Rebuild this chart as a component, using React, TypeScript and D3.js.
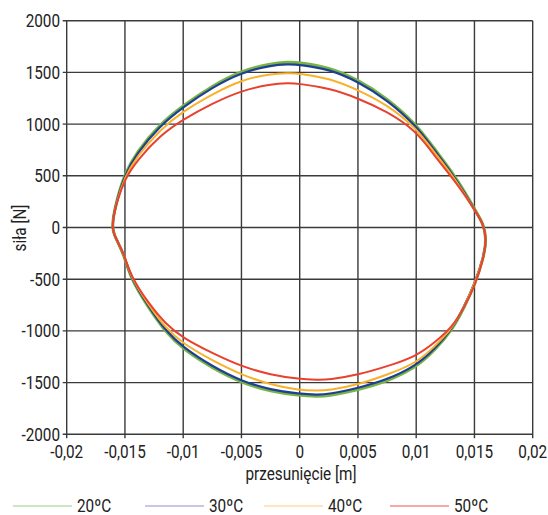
import React from "react";
import * as d3 from "d3";

const W = 548;
const H = 515;

// shared displacement positions around the loop (clockwise from left tip)
const loopX = [
  -0.0161, -0.016, -0.01567, -0.01505, -0.014, -0.012, -0.01, -0.0075, -0.005, -0.0025, -0.001, 0, 0.0025, 0.005, 0.0075, 0.01, 0.0115, 0.0131, 0.0142, 0.015, 0.0158, 0.01603,
  0.0158, 0.01508, 0.0141, 0.0131, 0.0115, 0.01, 0.0075, 0.005, 0.0025, 0.0015, 0, -0.0025, -0.005, -0.0075, -0.01, -0.0115, -0.013, -0.01453, -0.0151, -0.01573,
];

const force20 = [
  -20, 112, 278, 512, 730, 1000, 1180, 1372, 1518, 1586, 1600, 1596, 1552, 1430, 1252, 1000, 770, 535, 340, 178, 35, -119,
  -285, -540, -780, -990, -1200, -1352, -1490, -1570, -1630, -1634, -1626, -1586, -1502, -1360, -1178, -1015, -772, -492, -256, -119,
];
const force30 = [
  -20, 106, 270, 500, 715, 985, 1165, 1355, 1500, 1567, 1580, 1575, 1532, 1412, 1235, 984, 755, 520, 325, 171, 30, -119,
  -280, -530, -768, -980, -1185, -1336, -1473, -1553, -1612, -1618, -1610, -1570, -1486, -1344, -1160, -1000, -760, -480, -252, -119,
];
const force40 = [
  -20, 100, 262, 480, 685, 945, 1125, 1290, 1428, 1486, 1493, 1490, 1445, 1332, 1187, 965, 735, 505, 315, 171, 30, -119,
  -280, -535, -770, -975, -1160, -1312, -1425, -1521, -1576, -1578, -1576, -1521, -1425, -1286, -1125, -975, -745, -475, -250, -119,
];
const force50 = [
  -20, 95, 252, 460, 645, 890, 1045, 1200, 1325, 1387, 1397, 1390, 1348, 1251, 1122, 935, 705, 480, 310, 171, 30, -119,
  -290, -555, -775, -965, -1120, -1245, -1344, -1425, -1473, -1473, -1466, -1425, -1344, -1215, -1070, -935, -730, -465, -245, -119,
];

const seriesNames = ["20ºC", "30ºC", "40ºC", "50ºC"];
const seriesForces = [force20, force30, force40, force50];
const seriesColors = ["#78b444", "#1e3f96", "#f9b12a", "#e8412e"];
const legendColors = ["#9fcb85", "#938fcf", "#fbcd84", "#ec5550"];
const seriesWidths = [3, 2.2, 2, 2];

const xTicks = [-0.02, -0.015, -0.01, -0.005, 0, 0.005, 0.01, 0.015, 0.02];
const yTicks = [-2000, -1500, -1000, -500, 0, 500, 1000, 1500, 2000];

const FONT = "Roboto, 'Noto Sans', sans-serif";
const SX = 0.85;

function fmtX(v: number) {
  if (v === 0) return "0";
  return String(+v.toFixed(3)).replace(".", ",");
}

function Txt(props: { x: number; y: number; anchor?: string; rotate?: number; children: React.ReactNode }) {
  const { x, y, anchor, rotate, children } = props;
  return (
    <text
      transform={`translate(${x},${y})${rotate ? ` rotate(${rotate})` : ""} scale(${SX},1)`}
      textAnchor={anchor || "start"}
      fontSize={18}
      fill="#222"
    >
      {children}
    </text>
  );
}

export default function App() {
  const x = d3.scaleLinear().domain([-0.02, 0.02]).range([66.7, 532.7]);
  const y = d3.scaleLinear().domain([-2000, 2000]).range([434.3, 20.7]);

  const line = d3
    .line<[number, number]>()
    .x((d) => x(d[0]))
    .y((d) => y(d[1]))
    .curve(d3.curveBasisClosed);

  const legendX = [13, 145, 264, 390];

  return (
    <svg
      width={W}
      height={H}
      style={{ position: "absolute", left: 0, top: 0, background: "#fff" }}
      fontFamily={FONT}
    >
      {/* grid */}
      {xTicks.map((t) => (
        <line key={"gx" + t} x1={x(t)} x2={x(t)} y1={y(2000)} y2={y(-2000) + 4} stroke="#3a3a3a" strokeWidth={1.4} />
      ))}
      {yTicks.map((t) => (
        <line key={"gy" + t} x1={x(-0.02) - 4} x2={x(0.02)} y1={y(t)} y2={y(t)} stroke="#3a3a3a" strokeWidth={1.4} />
      ))}

      {/* series */}
      {seriesForces.map((f, i) => {
        const pts = loopX.map((xv, j) => [xv, f[j]] as [number, number]);
        return (
          <path key={"s" + i} d={line(pts) || ""} fill="none" stroke={seriesColors[i]} strokeWidth={seriesWidths[i]} strokeLinejoin="round" />
        );
      })}

      {/* tick labels */}
      {yTicks.map((t) => (
        <Txt key={"ty" + t} x={60} y={y(t) + 6.5} anchor="end">
          {String(t)}
        </Txt>
      ))}
      {xTicks.map((t) => (
        <Txt key={"tx" + t} x={x(t)} y={458} anchor="middle">
          {fmtX(t)}
        </Txt>
      ))}

      {/* axis titles */}
      <Txt x={301} y={480} anchor="middle">
        przesunięcie [m]
      </Txt>
      <Txt x={26} y={228} anchor="middle" rotate={-90}>
        siła [N]
      </Txt>

      {/* legend */}
      {seriesNames.map((n, i) => (
        <g key={"lg" + i}>
          <line x1={legendX[i]} x2={legendX[i] + 59} y1={506} y2={506} stroke={legendColors[i]} strokeWidth={1.1} />
          <Txt x={legendX[i] + 64} y={512}>
            {n}
          </Txt>
        </g>
      ))}
    </svg>
  );
}
